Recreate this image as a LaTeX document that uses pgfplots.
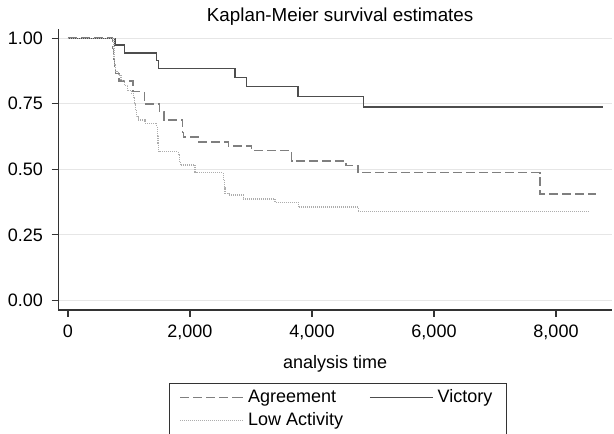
\documentclass[border=0pt]{standalone}
\usepackage{fontspec}
\setmainfont{Liberation Sans}
\usepackage{pgfplots}
\pgfplotsset{compat=1.18}

\definecolor{gridc}{HTML}{E6E6E6}
\definecolor{axc}{HTML}{333333}
\definecolor{vict}{HTML}{4D4D4D}
\definecolor{agr}{HTML}{7F7F7F}
\definecolor{low}{HTML}{ADADAD}

\begin{document}
\begin{tikzpicture}
\begin{axis}[
    name=ax,
    scale only axis,
    width=276.9pt, height=140.4pt,
    xmin=-159, xmax=8918,
    ymin=-0.037, ymax=1.034,
    axis x line*=bottom, axis y line*=left,
    axis line style={-, axc, line width=0.6pt},
    xtick={0,2000,4000,6000,8000},
    ytick={0,0.25,0.5,0.75,1},
    scaled x ticks=false,
    /pgf/number format/assume math mode=true,
    yticklabel style={/pgf/number format/fixed, /pgf/number format/fixed zerofill,
                      /pgf/number format/precision=2},
    xticklabel style={/pgf/number format/1000 sep={,}},
    tick label style={font=\fontsize{9}{10.8}\selectfont},
    yticklabel style={anchor=east, inner sep=0pt, xshift=-4.2pt},
    xticklabel style={anchor=base, inner sep=0pt, yshift=-10.2pt},
    tick align=outside, major tick length=3.3pt,
    tick style={axc, line width=0.6pt},
    ymajorgrids, grid style={gridc, line width=0.6pt},
    title={Kaplan-Meier survival estimates},
    title style={at={(axis description cs:0.5,1)}, anchor=base, yshift=-2.3pt, xshift=2.5pt,
                 inner sep=0pt, font=\fontsize{9.4}{11}\selectfont},
    xlabel={analysis time},
    x label style={at={(axis description cs:0.5,0)}, anchor=base, yshift=-29.3pt,
                   inner sep=0pt, font=\fontsize{9}{10.8}\selectfont},
    legend columns=2,
    legend cell align=left,
    legend image code/.code={\draw[#1] (0pt,0pt) -- (28pt,0pt); \path (28pt,0pt) -- (31.5pt,0pt);},
    legend style={at={(axis description cs:0.2,-0.26)}, anchor=north west,
                  draw=axc, line width=0.6pt, font=\fontsize{9}{10.8}\selectfont,
                  inner xsep=5pt, inner ysep=1.5pt, row sep=0.8pt,
                  nodes={text height=6.5pt, text depth=1.9pt, inner ysep=1.2pt},
                  /tikz/every even column/.append style={column sep=11pt}},
]
% Agreement
\addplot[const plot, agr, line width=0.8pt, dash pattern=on 4.5pt off 2pt] coordinates {
    (0,1) (727,0.96) (745,0.92) (760,0.895) (780,0.866) (840,0.837)
    (1070,0.796) (1251,0.748) (1497,0.720) (1574,0.688) (1880,0.640)
    (1895,0.624) (2136,0.605) (2630,0.589) (3011,0.571) (3667,0.532)
    (4560,0.514) (4759,0.487) (7738,0.406) (8660,0.406)
};
\addlegendentry{Agreement}

% Victory
\addplot[const plot, vict, line width=0.7pt] coordinates {
    (0,1) (770,0.974) (924,0.944) (1453,0.914) (1480,0.884) (2738,0.850)
    (2929,0.815) (3770,0.777) (4841,0.737) (8765,0.737)
};
\addlegendentry{Victory}

% Low Activity
\addplot[const plot, low, line width=0.6pt, dash pattern=on 0.5pt off 0.5pt] coordinates {
    (0,1) (754,0.93) (765,0.90) (780,0.873) (830,0.86) (870,0.84) (920,0.82)
    (980,0.80) (1040,0.79) (1075,0.775) (1090,0.75) (1105,0.725) (1120,0.70)
    (1150,0.688) (1262,0.676) (1454,0.663) (1465,0.63) (1475,0.60) (1490,0.567)
    (1808,0.555) (1825,0.53) (1840,0.516) (2082,0.49) (2100,0.487) (2546,0.46)
    (2560,0.43) (2575,0.408) (2640,0.402) (2874,0.387) (3393,0.374)
    (3775,0.356) (4759,0.338) (8546,0.338)
};
\addlegendentry{Low Activity}
\end{axis}
\pgfresetboundingbox
\useasboundingbox ([shift={(-29.15pt,-61.5pt)}]ax.south west) rectangle ([shift={(1pt,14.65pt)}]ax.north east);
\end{tikzpicture}
\end{document}
